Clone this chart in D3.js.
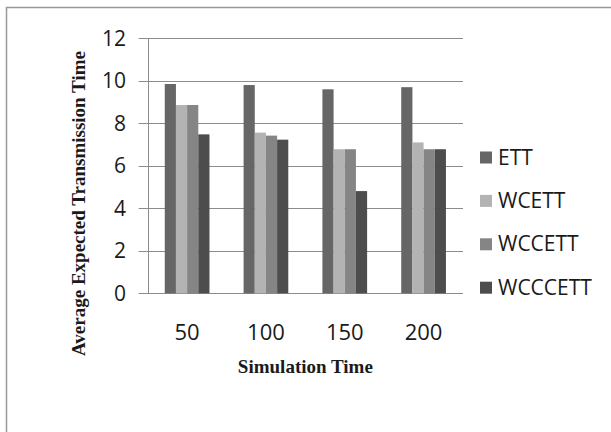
<!DOCTYPE html>
<html>
<head>
<meta charset="utf-8">
<script src="https://cdn.jsdelivr.net/npm/d3@7"></script>
<style>
  body { margin: 0; background: #fff; }
  svg { display: block; }
  .tick-label { font-family: "Open Sans", sans-serif; fill: #1a1a1a; }
  .title { font-family: "Liberation Serif", "Times New Roman", serif; font-weight: bold; fill: #1a1a1a; }
</style>
</head>
<body>
<svg width="611" height="432"></svg>
<script>
// Data
const categories = ["50", "100", "150", "200"];
const seriesNames = ["ETT", "WCETT", "WCCETT", "WCCCETT"];
const ett = [9.85, 9.8, 9.6, 9.7];
const wcett = [8.86, 7.56, 6.78, 7.1];
const wccett = [8.86, 7.42, 6.78, 6.78];
const wcccett = [7.48, 7.23, 4.81, 6.78];
const yTicks = [0, 2, 4, 6, 8, 10, 12];

const seriesValues = [ett, wcett, wccett, wcccett];
const colors = ["#666666", "#b3b3b3", "#858585", "#4d4d4d"];

const svg = d3.select("svg");

// outer frame (only top and left visible in the picture)
svg.append("rect")
    .attr("x", 6.5).attr("y", 7.5)
    .attr("width", 700).attr("height", 600)
    .attr("fill", "none")
    .attr("stroke", "#999")
    .attr("stroke-width", 1.5);

const plot = { left: 147.7, right: 463, top: 38.3, bottom: 293.3 };

const x0 = d3.scaleBand()
    .domain(categories)
    .range([plot.left, plot.right])
    .paddingInner(0.433)
    .paddingOuter(0.2165);

const x1 = d3.scaleBand()
    .domain(seriesNames)
    .range([0, x0.bandwidth()]);

const y = d3.scaleLinear()
    .domain([0, 12])
    .range([plot.bottom, plot.top]);

// gridlines + tick marks
svg.append("g")
    .selectAll("line")
    .data(yTicks)
    .join("line")
    .attr("x1", plot.left - 9)
    .attr("x2", plot.right)
    .attr("y1", d => Math.round(y(d)) + 0.5)
    .attr("y2", d => Math.round(y(d)) + 0.5)
    .attr("stroke", "#8c8c8c")
    .attr("stroke-width", 1);

// y axis line
svg.append("line")
    .attr("x1", Math.round(plot.left) + 0.5)
    .attr("x2", Math.round(plot.left) + 0.5)
    .attr("y1", y(12))
    .attr("y2", y(0))
    .attr("stroke", "#8c8c8c");

// y tick labels
svg.append("g")
    .selectAll("text")
    .data(yTicks)
    .join("text")
    .attr("class", "tick-label")
    .attr("x", 126)
    .attr("y", d => y(d) + 7.5)
    .attr("text-anchor", "end")
    .style("font-size", "21px")
    .text(d => d);

// bars
const groups = svg.append("g")
    .selectAll("g")
    .data(categories)
    .join("g")
    .attr("transform", d => `translate(${x0(d)},0)`);

groups.selectAll("rect")
    .data((c, ci) => seriesNames.map((s, si) => ({ s, si, v: seriesValues[si][ci] })))
    .join("rect")
    .attr("x", d => x1(d.s))
    .attr("width", x1.bandwidth())
    .attr("y", d => y(d.v))
    .attr("height", d => y(0) - y(d.v))
    .attr("fill", d => colors[d.si]);

// x tick labels
svg.append("g")
    .selectAll("text")
    .data(categories)
    .join("text")
    .attr("class", "tick-label")
    .attr("x", d => x0(d) + x0.bandwidth() / 2)
    .attr("y", 340)
    .attr("text-anchor", "middle")
    .style("font-size", "22px")
    .text(d => d);

// axis titles
svg.append("text")
    .attr("class", "title")
    .attr("x", (plot.left + plot.right) / 2)
    .attr("y", 373)
    .attr("text-anchor", "middle")
    .style("font-size", "19px")
    .text("Simulation Time");

svg.append("text")
    .attr("class", "title")
    .attr("transform", "translate(85,203.5) rotate(-90)")
    .attr("text-anchor", "middle")
    .style("font-size", "19px")
    .text("Average Expected Transmission Time");

// legend
const legend = svg.append("g")
    .selectAll("g")
    .data(seriesNames)
    .join("g")
    .attr("transform", (d, i) => `translate(480,${157.5 + i * 43.4})`);

legend.append("rect")
    .attr("x", 0).attr("y", -6)
    .attr("width", 12).attr("height", 12)
    .attr("fill", (d, i) => colors[i]);

legend.append("text")
    .attr("class", "tick-label")
    .attr("x", 18)
    .attr("y", 7)
    .style("font-size", "21px")
    .text(d => d);
</script>
</body>
</html>
